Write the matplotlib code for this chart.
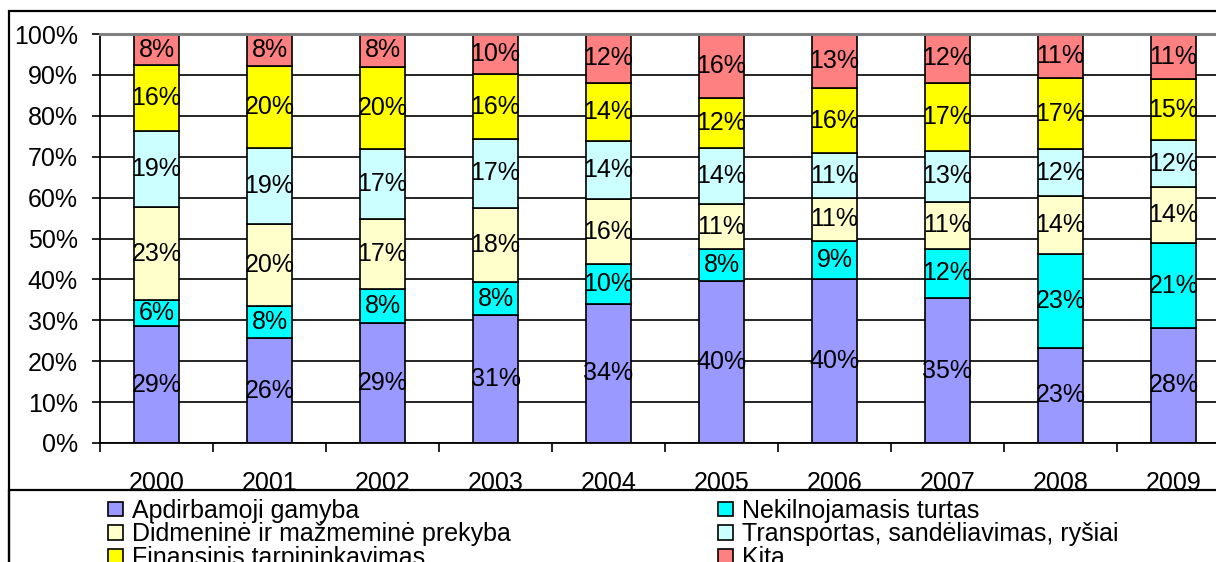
import numpy as np
import matplotlib.pyplot as plt
from matplotlib.patches import Patch, Rectangle

plt.rcParams['font.family'] = ['Liberation Sans', 'DejaVu Sans']

# Données (parts en %)
years = ['2000', '2001', '2002', '2003', '2004', '2005', '2006', '2007', '2008', '2009']
apdirbamoji = [28.6, 25.6, 29.3, 31.2, 34.0, 39.6, 40.0, 35.4, 23.3, 28.2]
nekilnojamasis = [6.4, 8.0, 8.3, 8.2, 9.7, 7.8, 9.4, 12.1, 23.0, 20.6]
didmenine = [22.6, 20.0, 17.1, 18.1, 15.9, 11.0, 10.6, 11.4, 14.0, 13.7]
transportas = [18.8, 18.6, 17.2, 16.8, 14.2, 13.7, 10.8, 12.6, 11.6, 11.6]
finansinis = [16.0, 20.0, 20.1, 15.8, 14.3, 12.3, 15.9, 16.6, 17.3, 14.8]
kita = [7.6, 7.8, 8.0, 9.9, 11.9, 15.6, 13.3, 11.9, 10.8, 11.1]

series = [
    ('Apdirbamoji gamyba', apdirbamoji, '#9999FF'),
    ('Nekilnojamasis turtas', nekilnojamasis, '#00FFFF'),
    ('Didmeninė ir mažmeminė prekyba', didmenine, '#FFFFCC'),
    ('Transportas, sandėliavimas, ryšiai', transportas, '#CCFFFF'),
    ('Finansinis tarpininkavimas', finansinis, '#FFFF00'),
    ('Kita', kita, '#FF8080'),
]

fs = 18
fig = plt.figure(figsize=(12.16, 5.62), dpi=100)
W, H = 1216, 562
# zone du graphique (déborde à droite comme l'original)
ax = fig.add_axes([100 / W, 1 - 443 / H, 1130 / W, 409 / H])

x = np.arange(len(years))
bottom = np.zeros(len(years))
for name, vals, col in series:
    vals = np.array(vals)
    bars = ax.bar(x, vals, 0.39, bottom=bottom, color=col, edgecolor='black',
                  linewidth=1.2, zorder=2)
    ax.bar_label(bars, labels=['%d%%' % round(v) for v in vals],
                 label_type='center', fontsize=fs, color='black')
    bottom += vals

ax.set_xlim(-0.5, len(years) - 0.5)
ax.set_ylim(0, 100)
ax.set_yticks(np.arange(0, 101, 10))
ax.set_yticklabels(['%d%%' % v for v in range(0, 101, 10)], fontsize=fs)
ax.tick_params(axis='y', direction='out', length=6, width=1.2, pad=10)

# graduations entre les catégories, étiquettes au centre
ax.set_xticks(np.arange(-0.5, len(years), 1))
ax.set_xticklabels([])
ax.tick_params(axis='x', which='major', direction='out', length=6.5, width=1.2)
ax.set_xticks(x, minor=True)
ax.set_xticklabels(years, minor=True, fontsize=fs)
ax.tick_params(axis='x', which='minor', length=0, pad=20)

ax.grid(True, axis='y', color='black', linewidth=1.2)
ax.set_axisbelow(True)
ax.spines['top'].set_color('#808080')
ax.spines['top'].set_linewidth(2.2)
ax.spines['right'].set_visible(False)
ax.spines['left'].set_linewidth(1.3)
ax.spines['bottom'].set_linewidth(1.3)

# cadre de la légende et cadre extérieur
fig.add_artist(Rectangle((9 / W, -0.1), 1.1, (1 - 490 / H) + 0.1, transform=fig.transFigure,
                         facecolor='white', edgecolor='black', linewidth=1.6, zorder=3))
fig.add_artist(Rectangle((9 / W, -0.1), 1.1, (1 - 11 / H) + 0.1, transform=fig.transFigure,
                         fill=False, edgecolor='black', linewidth=1.6, zorder=10))

handles = [Patch(facecolor=c, edgecolor='black', linewidth=1.2, label=n) for n, v, c in series]
left_h = [handles[0], handles[2], handles[4]]
right_h = [handles[1], handles[3], handles[5]]
for hs, xpos in [(left_h, 108), (right_h, 718)]:
    leg = fig.legend(handles=hs, loc='upper left', bbox_to_anchor=(xpos / W, 1 - 499 / H),
                     frameon=False, fontsize=fs, borderpad=0, borderaxespad=0,
                     handlelength=0.6, handleheight=0.52, handletextpad=0.36,
                     labelspacing=-0.02)
    leg.set_zorder(5)

plt.savefig('out.png', dpi=100)
